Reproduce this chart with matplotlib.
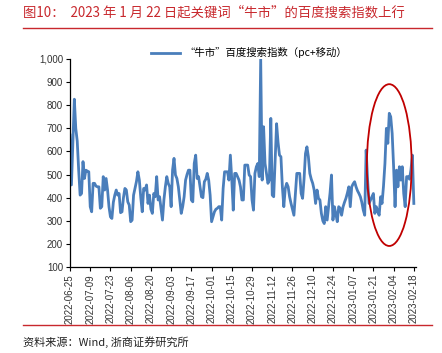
import numpy as np
import pandas as pd
import matplotlib
matplotlib.use('Agg')
import matplotlib.pyplot as plt
import matplotlib.dates as mdates
from matplotlib.patches import Ellipse
from matplotlib.lines import Line2D
from matplotlib.ticker import FuncFormatter

plt.rcParams['font.family'] = ['Noto Sans CJK SC', 'DejaVu Sans']

# datos diarios, desde 2022-06-25
fecha_inicio = '2022-06-25'
indice_bull = [
    671, 455, 640, 826, 700, 645, 520, 411, 418, 556,
    483, 519, 515, 512, 361, 339, 462, 462, 450, 447,
    447, 354, 361, 491, 433, 483, 433, 360, 317, 310,
    380, 411, 433, 411, 418, 335, 339, 400, 440, 433,
    382, 368, 296, 303, 411, 440, 470, 512, 476, 400,
    339, 440, 433, 455, 375, 411, 350, 332, 418, 404,
    491, 390, 404, 354, 303, 390, 447, 491, 462, 447,
    361, 520, 570, 498, 483, 447, 390, 332, 361, 404,
    476, 500, 519, 519, 390, 382, 548, 584, 483, 491,
    447, 404, 400, 469, 480, 505, 476, 411, 296, 317,
    339, 350, 354, 361, 361, 303, 440, 512, 512, 512,
    476, 584, 476, 346, 505, 505, 490, 476, 447, 390,
    390, 541, 541, 541, 498, 491, 390, 346, 505, 534,
    548, 491, 1000, 476, 707, 548, 505, 462, 476, 743,
    411, 404, 560, 720, 640, 584, 577, 447, 361, 440,
    462, 447, 404, 375, 350, 324, 418, 505, 505, 505,
    418, 397, 480, 591, 620, 577, 505, 480, 462, 433,
    375, 433, 397, 390, 332, 300, 288, 361, 303, 361,
    420, 498, 303, 361, 330, 296, 361, 354, 324, 360,
    380, 397, 420, 447, 361, 447, 460, 469, 447, 430,
    418, 404, 380, 346, 324, 606, 476, 375, 390, 404,
    418, 332, 361, 340, 324, 404, 375, 450, 548, 700,
    635, 765, 750, 678, 534, 361, 519, 447, 534, 476,
    534, 418, 361, 491, 491, 480, 520, 584, 375,
]
fechas_ticks = ['2022-06-25', '2022-07-09', '2022-07-23', '2022-08-06',
                '2022-08-20', '2022-09-03', '2022-09-17', '2022-10-01',
                '2022-10-15', '2022-10-29', '2022-11-12', '2022-11-26',
                '2022-12-10', '2022-12-24', '2023-01-07', '2023-01-21',
                '2023-02-04', '2023-02-18']
ticks_y = [100, 200, 300, 400, 500, 600, 700, 800, 900, 1000]

nombre_serie = '“牛市”百度搜索指数（pc+移动）'
titulo = '图10：  2023 年 1 月 22 日起关键词“牛市”的百度搜索指数上行'
fuente = '资料来源：Wind, 浙商证券研究所'

rojo = '#C8282D'
azul = '#4A7EBB'

fechas = pd.date_range(fecha_inicio, periods=len(indice_bull), freq='D')

fig = plt.figure(figsize=(4.42, 3.53), dpi=100)
ax = fig.add_axes([70 / 442, 1 - 267 / 353, 346 / 442, 208 / 353])

ax.plot(fechas, indice_bull, color=azul, lw=2.0, label=nombre_serie)

# elipse roja marcando la subida de 2023
centro = mdates.date2num(pd.Timestamp('2023-02-01'))
ax.add_patch(Ellipse((centro, 541), 31, 700, fill=False,
                     edgecolor='#C00000', lw=1.3, zorder=5))

ax.set_ylim(100, 1000)
ax.set_yticks(ticks_y)
ax.yaxis.set_major_formatter(FuncFormatter(lambda v, p: f'{int(v):,}'))
t0 = mdates.date2num(pd.Timestamp(fecha_inicio))
ax.set_xlim(t0, t0 + 239.5)
ax.set_xticks([mdates.date2num(pd.Timestamp(d)) for d in fechas_ticks])
ax.set_xticklabels(fechas_ticks, rotation=90)

for lab in ax.get_xticklabels() + ax.get_yticklabels():
    lab.set_family('Liberation Sans')
    lab.set_fontsize(7)
    lab.set_color('#333333')

ax.tick_params(axis='both', direction='out', length=3, width=0.8, pad=2)
ax.spines['top'].set_visible(False)
ax.spines['right'].set_visible(False)
ax.spines['left'].set_linewidth(0.9)
ax.spines['bottom'].set_linewidth(0.9)

ax.legend(loc='center', bbox_to_anchor=(0.563, 0.85), bbox_transform=fig.transFigure,
          frameon=False, fontsize=7.5, handlelength=2.8, handletextpad=0.4)

fig.text(23 / 442, 1 - 12.5 / 353, titulo, color=rojo, fontsize=9.6, va='center', ha='left')
fig.add_artist(Line2D([23 / 442, 432 / 442], [1 - 28.3 / 353] * 2, color=rojo, lw=1))
fig.add_artist(Line2D([23 / 442, 432 / 442], [1 - 325 / 353] * 2, color=rojo, lw=1))
fig.text(23 / 442, 1 - 342.5 / 353, fuente, color='#222222', fontsize=8, va='center', ha='left')

fig.savefig('out.png', dpi=100)
